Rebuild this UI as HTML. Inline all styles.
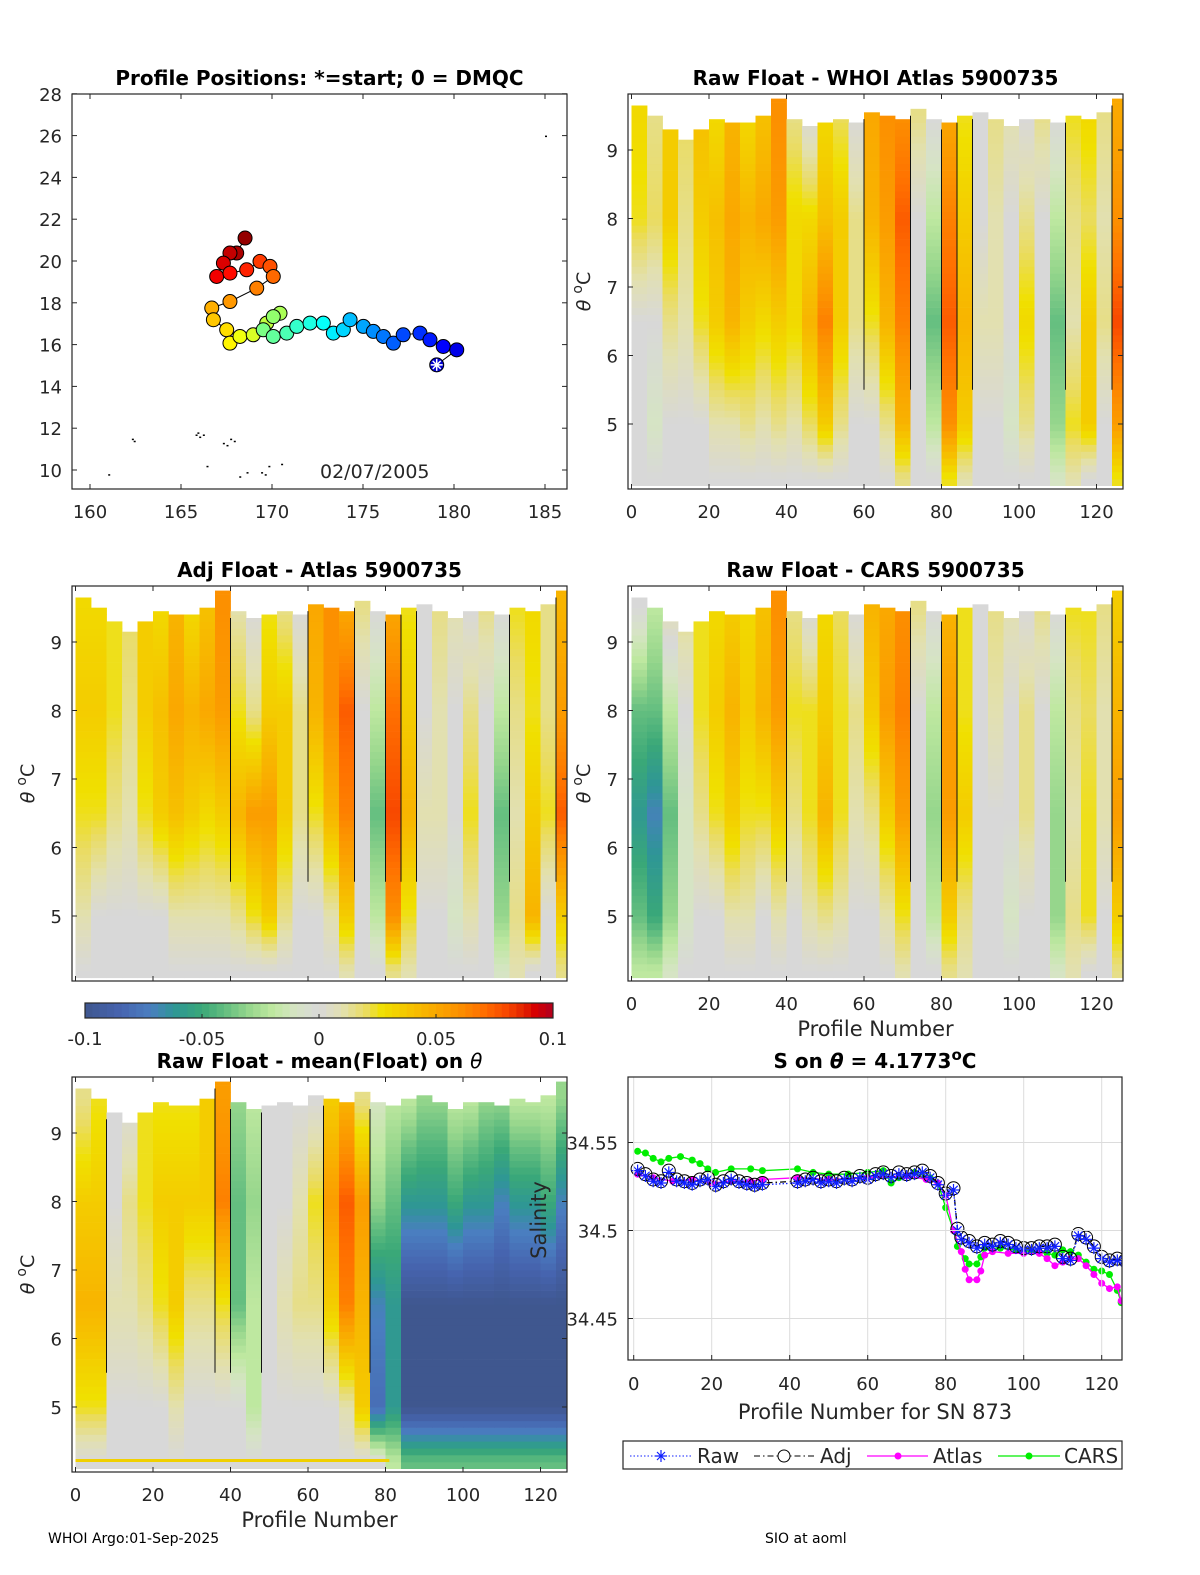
<!DOCTYPE html>
<html><head><meta charset="utf-8"><style>
html,body{margin:0;padding:0;background:#fff;}
svg{display:block;font-family:"DejaVu Sans","Liberation Sans",sans-serif;}
</style></head><body>
<svg id="fig" width="1200" height="1575" viewBox="0 0 1200 1575" xmlns="http://www.w3.org/2000/svg">
<g id="layer"></g>
</svg>
<script>
// ---------- data: profile positions ----------
const trackLon = [179.05,180.15,179.41,178.68,178.13,177.21,176.67,176.12,175.57,175.02,174.29,173.92,173.37,172.82,172.09,171.36,170.81,170.07,169.52,170.07,170.44,169.71,168.97,168.24,167.69,167.51,166.78,166.69,167.69,169.16,170.07,169.89,169.34,168.61,167.69,166.96,167.33,167.69,168.06,168.52];
const trackLat = [15.03,15.75,15.91,16.23,16.55,16.47,16.07,16.39,16.63,16.87,17.19,16.71,16.55,17.03,17.03,16.87,16.55,16.39,16.71,17.34,17.50,17.03,16.47,16.39,16.07,16.71,17.19,17.75,18.06,18.70,19.26,19.74,19.98,19.58,19.42,19.26,19.90,20.38,20.38,21.10];
const posXTicks = [160,165,170,175,180,185];
const posYTicks = [10,12,14,16,18,20,22,24,26,28];
const dateLabel = "02/07/2005";

// ---------- data: theta section anomalies (bins of 4 profiles, levels in theta) ----------
const levelTheta = [9.5,8.0,6.5,5.0,4.2];
const binTop = [9.65,9.5,9.3,9.15,9.3,9.45,9.4,9.4,9.5,9.75,9.45,9.35,9.4,9.45,9.4,9.55,9.5,9.45,9.6,9.45,9.4,9.5,9.55,9.45,9.35,9.45,9.45,9.4,9.5,9.45,9.55,9.75];
const whoiL1 = [0.03,0.015,0.035,0.02,0.04,0.03,0.045,0.03,0.04,0.06,0.015,0.0,0.03,0.02,0.0,0.05,0.06,0.06,0.015,0.0,0.05,0.025,0.0,0.015,0.01,0.0,0.015,0.0,0.025,0.03,0.015,0.05];
const whoiL2 = [0.025,0.02,0.035,0.015,0.035,0.04,0.05,0.045,0.05,0.055,0.03,0.03,0.04,0.035,0.015,0.045,0.055,0.075,0.0,-0.02,0.065,0.035,0.0,0.01,0.0,0.015,0.0,-0.02,0.015,0.02,0.01,0.06];
const whoiL3 = [0.0,0.0,0.015,0.01,0.025,0.035,0.045,0.035,0.03,0.035,0.03,0.045,0.065,0.035,0.015,0.025,0.045,0.065,0.0,-0.04,0.075,0.045,0.01,0.01,0.0,0.03,0.0,-0.04,0.01,0.035,0.015,0.08];
const whoiL4 = [0.0,-0.01,0.0,0.0,0.0,0.01,0.01,0.015,0.01,0.015,0.01,0.02,0.035,0.015,0.0,0.0,0.015,0.045,0.0,-0.02,0.06,0.035,0.0,0.0,-0.01,0.015,0.0,-0.03,0.025,0.035,0.0,0.055];
const whoiL5 = [0,0,0,0,0,0,0,0,0,0,0,0,0,0,0,0,0,0.015,0,0,0.025,0.01,0,0,0,0,0,-0.01,0.01,0,0,0.025];
const adjL1 = [0.03,0.03,0.025,0.02,0.035,0.03,0.045,0.03,0.04,0.06,0.01,0.0,0.025,0.015,0.0,0.05,0.06,0.05,0.015,0.0,0.05,0.025,0.0,0.015,0.01,0.0,0.015,0.0,0.025,0.03,0.015,0.045];
const adjL2 = [0.035,0.035,0.025,0.015,0.035,0.04,0.05,0.045,0.05,0.055,0.025,0.015,0.035,0.035,0.015,0.045,0.06,0.075,0.0,-0.02,0.07,0.035,0.0,0.01,0.0,0.015,0.0,-0.02,0.015,0.025,0.015,0.055];
const adjL3 = [0.025,0.025,0.015,0.01,0.025,0.035,0.04,0.035,0.03,0.035,0.045,0.055,0.055,0.035,0.015,0.025,0.045,0.065,0.0,-0.04,0.08,0.045,0.01,0.01,0.0,0.025,0.0,-0.04,0.01,0.035,0.025,0.075];
const adjL4 = [0.01,0.0,0.0,0.0,0.0,0.0,0.01,0.01,0.01,0.01,0.015,0.025,0.035,0.015,0.0,0.0,0.01,0.035,0.0,-0.02,0.06,0.025,0.0,0.0,-0.01,0.01,0.0,-0.03,0.015,0.045,0.0,0.035];
const adjL5 = [0,0,0,0,0,0,0,0,0,0,0,0,0,0,0,0,0,0.01,0,0,0.015,0.01,0,0,0,0,0,-0.01,0.01,0,0,0.015];
const carsL1 = [0.0,-0.02,0.01,0.015,0.025,0.03,0.035,0.03,0.04,0.06,0.015,0.0,0.03,0.02,0.0,0.045,0.05,0.06,0.015,0.0,0.045,0.025,0.0,0.015,0.01,0.0,0.015,0.0,0.025,0.025,0.015,0.035];
const carsL2 = [-0.04,-0.04,-0.02,0.0,0.025,0.035,0.045,0.035,0.045,0.055,0.025,0.025,0.035,0.025,0.015,0.035,0.055,0.065,0.0,-0.02,0.055,0.025,0.0,0.01,0.0,0.015,0.0,-0.02,0.015,0.02,0.01,0.045];
const carsL3 = [-0.06,-0.07,-0.04,-0.01,0.015,0.025,0.035,0.025,0.025,0.035,0.015,0.025,0.045,0.025,0.01,0.015,0.035,0.055,0.0,-0.03,0.055,0.035,0.0,0.0,0.0,0.015,0.0,-0.03,0.01,0.025,0.01,0.055];
const carsL4 = [-0.04,-0.05,-0.03,-0.01,0.0,0.0,0.01,0.01,0.0,0.01,0.0,0.01,0.015,0.01,0.0,0.0,0.01,0.025,0.0,-0.02,0.035,0.015,0.0,0.0,-0.01,0.0,0.0,-0.03,0.015,0.025,0.0,0.035];
const carsL5 = [-0.02,-0.02,-0.01,0,0,0,0,0,0,0,0,0,0,0,0,0,0,0.01,0,0,0.015,0.01,0,0,0,0,0,-0.01,0.01,0,0,0.015];
const meanL1 = [0.015,0.025,0.0,0.0,0.025,0.025,0.025,0.025,0.035,0.055,-0.03,-0.02,0.0,0.0,0.0,0.0,0.035,0.045,0.015,-0.01,-0.02,-0.02,-0.03,-0.03,-0.02,-0.02,-0.03,-0.03,-0.02,-0.02,-0.02,-0.03];
const meanL2 = [0.035,0.035,0.0,0.015,0.025,0.035,0.035,0.035,0.035,0.065,-0.04,-0.03,0.0,0.0,0.01,0.025,0.055,0.075,0.055,-0.03,-0.04,-0.06,-0.06,-0.06,-0.05,-0.06,-0.06,-0.07,-0.06,-0.06,-0.05,-0.07];
const meanL3 = [0.045,0.045,0.01,0.01,0.015,0.025,0.035,0.015,0.015,0.025,-0.04,-0.02,0.0,0.01,0.015,0.015,0.035,0.065,0.045,-0.07,-0.06,-0.1,-0.1,-0.1,-0.1,-0.1,-0.1,-0.1,-0.1,-0.1,-0.1,-0.1];
const meanL4 = [0.025,0.025,0.0,0.0,0.0,0.0,0.01,0.0,0.0,0.0,0.0,-0.02,0.0,0.0,0.0,0.0,0.0,0.01,0.035,-0.08,-0.06,-0.1,-0.1,-0.1,-0.1,-0.1,-0.1,-0.1,-0.1,-0.1,-0.1,-0.1];
const meanL5 = [0,0,0,0,0,0,0,0,0,0,0,0,0,0,0,0,0,0,0,0,-0.02,-0.04,-0.04,-0.04,-0.04,-0.04,-0.04,-0.04,-0.04,-0.04,-0.04,-0.04];
const profXTicks = [0,20,40,60,80,100,120];
const thetaTicks = [5,6,7,8,9];
const cbarTicks = [-0.1,-0.05,0,0.05,0.1];
const cbarLabels = ["-0.1","-0.05","0","0.05","0.1"];

// ---------- data: salinity on theta ----------
const rawProf = [1,3,5,7,9,11,13,15,17,19,21,23,25,27,29,31,33,42,44,46,48,50,52,54,56,58,60,62,64,66,68,70,72,74,76,78,80,82,83,84,86,88,90,92,94,96,98,100,102,104,106,108,110,112,114,116,118,120,122,124,126];
const rawSal = [34.534,34.531,34.528,34.527,34.533,34.528,34.527,34.526,34.528,34.529,34.525,34.527,34.529,34.527,34.526,34.525,34.526,34.527,34.528,34.529,34.527,34.528,34.527,34.529,34.528,34.530,34.529,34.531,34.532,34.530,34.532,34.531,34.532,34.533,34.530,34.526,34.520,34.523,34.500,34.495,34.493,34.490,34.492,34.491,34.493,34.492,34.490,34.489,34.489,34.490,34.490,34.491,34.484,34.483,34.497,34.495,34.490,34.484,34.482,34.483,34.482];
const adjSal = [34.535,34.532,34.529,34.528,34.534,34.529,34.528,34.527,34.529,34.530,34.526,34.528,34.530,34.528,34.527,34.526,34.527,34.528,34.529,34.530,34.528,34.529,34.528,34.530,34.529,34.531,34.530,34.532,34.533,34.531,34.533,34.532,34.533,34.534,34.531,34.527,34.521,34.524,34.501,34.496,34.494,34.491,34.493,34.492,34.494,34.493,34.491,34.490,34.490,34.491,34.491,34.492,34.485,34.484,34.498,34.496,34.491,34.485,34.483,34.484,34.483];
const atlasProf = [1,5,10,15,20,25,30,33,42,50,60,70,75,78,80,82,84,85,86,88,89,90,92,96,100,104,106,108,110,112,114,116,118,120,122,124,125,126,127];
const atlasSal = [34.532,34.530,34.528,34.529,34.527,34.528,34.528,34.529,34.530,34.529,34.530,34.531,34.529,34.527,34.520,34.500,34.488,34.478,34.472,34.472,34.477,34.486,34.488,34.487,34.487,34.487,34.484,34.480,34.482,34.484,34.484,34.480,34.475,34.470,34.467,34.468,34.460,34.452,34.450];
const carsProf = [1,3,5,7,9,12,15,17,19,21,25,30,33,42,46,50,55,60,64,66,68,72,76,78,80,82,83,85,86,88,89,90,94,98,102,106,108,110,112,114,116,118,120,122,124,125,126];
const carsSal = [34.545,34.544,34.541,34.539,34.541,34.542,34.540,34.538,34.535,34.533,34.535,34.535,34.534,34.535,34.533,34.532,34.532,34.533,34.534,34.527,34.530,34.533,34.530,34.527,34.513,34.500,34.491,34.484,34.481,34.481,34.485,34.490,34.490,34.489,34.488,34.487,34.486,34.489,34.488,34.486,34.482,34.478,34.477,34.475,34.466,34.459,34.458];
const salTicks = [34.45,34.5,34.55];
const salTickLabels = ["34.45","34.5","34.55"];

// ---------- helpers ----------
const NS = "http://www.w3.org/2000/svg";
const root = document.getElementById('layer');
function mk(tag, attrs, parent){
  const e = document.createElementNS(NS, tag);
  for (const k in attrs) e.setAttribute(k, attrs[k]);
  (parent||root).appendChild(e);
  return e;
}
function txt(s, x, y, size, opts, parent){
  const o = Object.assign({x:x, y:y, 'font-size':size, fill:'#262626'}, opts||{});
  const e = mk('text', o, parent);
  e.textContent = s;
  return e;
}
const stops = [[-0.1,[63,87,143]],[-0.085,[70,100,175]],[-0.072,[74,126,192]],[-0.062,[46,150,150]],[-0.05,[58,168,120]],[-0.04,[100,190,128]],[-0.03,[150,214,140]],[-0.02,[190,232,160]],[-0.01,[214,228,196]],[0,[216,216,216]],[0.01,[226,224,176]],[0.02,[234,220,96]],[0.027,[240,224,0]],[0.04,[246,192,0]],[0.05,[250,168,0]],[0.06,[252,144,0]],[0.07,[255,112,0]],[0.08,[248,72,0]],[0.088,[224,32,0]],[0.092,[216,0,0]],[0.1,[176,0,32]]];
function cmap(v){
  if (v <= stops[0][0]) return 'rgb('+stops[0][1].join(',')+')';
  for (let i=1;i<stops.length;i++){
    if (v <= stops[i][0]){
      const a=stops[i-1], b=stops[i], t=(v-a[0])/(b[0]-a[0]);
      const c=a[1].map((q,j)=>Math.round(q+(b[1][j]-q)*t));
      return 'rgb('+c.join(',')+')';
    }
  }
  return 'rgb('+stops[stops.length-1][1].join(',')+')';
}
function levelVal(levels, b, th){
  if (th >= levelTheta[0]) return levels[0][b];
  for (let i=1;i<levelTheta.length;i++){
    if (th >= levelTheta[i]){
      const t=(levelTheta[i-1]-th)/(levelTheta[i-1]-levelTheta[i]);
      return levels[i-1][b]+(levels[i][b]-levels[i-1][b])*t;
    }
  }
  return levels[levelTheta.length-1][b];
}
function axesBox(x,y,w,h,name){
  const r = mk('rect',{x:x,y:y,width:w,height:h,fill:'none',stroke:'#262626','stroke-width':1.2});
  
  
}

// ---------- section panel ----------
function section(L, T, levels, title, name, showXLabel, showXTicks){
  const W=495, H=395;
  const g = mk('g',{});
  
  
  const xs = p => L + 3.5 + p*3.875;
  const ys = th => T + 56 + (9-th)*68.5;
  const clip = 'clip-'+name;
  const cp = mk('clipPath',{id:clip}, g);
  mk('rect',{x:L,y:T,width:W,height:H}, cp);
  const hg = mk('g',{'clip-path':'url(#'+clip+')'}, g);
  const nb = levels[0].length;
  for (let b=0;b<nb;b++){
    const x0=xs(b*4), x1=xs(b*4+4);
    for (let th=4.1; th < binTop[b]; th+=0.1){
      const thc = Math.min(th+0.1, binTop[b]);
      const v = levelVal(levels, b, th+0.05);
      const cell = mk('rect',{x:x0.toFixed(1),y:ys(thc).toFixed(1),width:(x1-x0+0.4).toFixed(1),height:(ys(th)-ys(thc)+0.4).toFixed(1),fill:cmap(v)}, hg);
      
      
    }
    const prev = b>0 ? levels[1][b-1] : null;
    if (prev !== null && Math.abs(prev - levels[1][b]) > 0.025){
      const ln = mk('line',{x1:x0,y1:ys(binTop[b]-0.1),x2:x0,y2:ys(5.5),stroke:'#111','stroke-width':1}, hg);
      
      
    }
  }
  axesBox(L,T,W,H,name+'-axes');
  profXTicks.forEach(p=>{
    const x=xs(p);
    mk('line',{x1:x,y1:T+H,x2:x,y2:T+H-5,stroke:'#262626'}, g);
    mk('line',{x1:x,y1:T,x2:x,y2:T+5,stroke:'#262626'}, g);
    if (showXTicks){
      const t = txt(String(p), x, T+H+29, 18, {'text-anchor':'middle'}, g);
      
      
    }
  });
  thetaTicks.forEach(v=>{
    const y=ys(v);
    mk('line',{x1:L,y1:y,x2:L+5,y2:y,stroke:'#262626'}, g);
    mk('line',{x1:L+W,y1:y,x2:L+W-5,y2:y,stroke:'#262626'}, g);
    const t = txt(String(v), L-10, y+7, 18, {'text-anchor':'end'}, g);
    
    
  });
  if (title){
    const tt = txt(title, L+W/2, T-9, 20, {'text-anchor':'middle','font-weight':'bold',fill:'#000'}, g);
    
    
  }
  const yl = mk('text',{x:0,y:0,'font-size':19,fill:'#262626',transform:'translate('+(L-38)+','+(T+H/2)+') rotate(-90)','text-anchor':'middle'}, g);
  yl.innerHTML = '<tspan font-style="italic">θ</tspan> <tspan dy="-8" font-size="14">o</tspan><tspan dy="8">C</tspan>';
  
  
  if (showXLabel){
    const xl = txt('Profile Number', L+W/2, T+H+55, 21, {'text-anchor':'middle'}, g);
    
    
  }
  return {xs:xs, ys:ys};
}

// ---------- panel 1: positions ----------
(function(){
  const L=72,T=94,W=495,H=395;
  const g = mk('g',{});
  
  
  const xs = lon => 90 + (lon-160)*18.2;
  const ys = lat => 470 - (lat-10)*20.9;
  [[161,9.8],[162.3,11.5],[162.4,11.4],[165.8,11.7],[166,11.6],[166.2,11.7],[166.4,10.2],[167.3,11.3],[167.5,11.2],[167.9,11.4],[168.6,9.9],[169.4,9.9],[169.6,9.8],[169.8,10.2],[170.5,10.3],[168.2,9.7],[167.7,11.5],[165.9,11.8],[185,26]].forEach(d=>{
    const s = mk('rect',{x:xs(d[0]),y:ys(d[1]),width:2,height:1.5,fill:'#000'}, g);
    
    
  });
  let pts = trackLon.map((lo,i)=>xs(lo).toFixed(1)+','+ys(trackLat[i]).toFixed(1)).join(' ');
  const pl = mk('polyline',{points:pts,fill:'none',stroke:'#000','stroke-width':1}, g);
  
  
  function jet(t){
    const r = Math.min(1,Math.max(0,1.5-Math.abs(4*t-3)));
    const gg = Math.min(1,Math.max(0,1.5-Math.abs(4*t-2)));
    const b = Math.min(1,Math.max(0,1.5-Math.abs(4*t-1)));
    return 'rgb('+Math.round(r*255)+','+Math.round(gg*255)+','+Math.round(b*255)+')';
  }
  const n = trackLon.length;
  for (let i=n-1;i>=0;i--){
    const c = mk('circle',{cx:xs(trackLon[i]),cy:ys(trackLat[i]),r:7,fill:jet(0.08+0.9*i/(n-1)),stroke:'#000','stroke-width':1}, g);
    
    
  }
  const sx=xs(trackLon[0]), sy=ys(trackLat[0]);
  const st = mk('path',{d:'M'+(sx-6)+' '+sy+'H'+(sx+6)+'M'+sx+' '+(sy-6)+'V'+(sy+6)+'M'+(sx-4)+' '+(sy-4)+'L'+(sx+4)+' '+(sy+4)+'M'+(sx-4)+' '+(sy+4)+'L'+(sx+4)+' '+(sy-4),stroke:'#fff','stroke-width':1.5}, g);
  
  
  axesBox(L,T,W,H,'positions-axes');
  posXTicks.forEach(v=>{
    const x=xs(v);
    mk('line',{x1:x,y1:T+H,x2:x,y2:T+H-5,stroke:'#262626'}, g);
    mk('line',{x1:x,y1:T,x2:x,y2:T+5,stroke:'#262626'}, g);
    const t = txt(String(v), x, T+H+29, 18, {'text-anchor':'middle'}, g);
    
    
  });
  posYTicks.forEach(v=>{
    const y=ys(v);
    mk('line',{x1:L,y1:y,x2:L+5,y2:y,stroke:'#262626'}, g);
    mk('line',{x1:L+W,y1:y,x2:L+W-5,y2:y,stroke:'#262626'}, g);
    const t = txt(String(v), L-10, y+7, 18, {'text-anchor':'end'}, g);
    
    
  });
  const d = txt(dateLabel, 320, 478, 19, {}, g);
  
  
  const tt = txt('Profile Positions: *=start; 0 = DMQC', L+W/2, T-9, 20, {'text-anchor':'middle','font-weight':'bold',fill:'#000'}, g);
  
  
})();

section(628, 94, [whoiL1,whoiL2,whoiL3,whoiL4,whoiL5], 'Raw Float - WHOI Atlas  5900735', 'raw-whoi-panel', false, true);
section(72, 586, [adjL1,adjL2,adjL3,adjL4,adjL5], 'Adj Float - Atlas  5900735', 'adj-atlas-panel', false, false);
section(628, 586, [carsL1,carsL2,carsL3,carsL4,carsL5], 'Raw Float - CARS  5900735', 'raw-cars-panel', true, true);

// ---------- colorbar ----------
(function(){
  const L=85,T=1003,W=468,H=15;
  const g = mk('g',{});
  
  
  const nSeg = 64;
  for (let i=0;i<nSeg;i++){
    const v = -0.1 + 0.2*(i+0.5)/nSeg;
    mk('rect',{x:(L+W*i/nSeg).toFixed(2),y:T,width:(W/nSeg+0.5).toFixed(2),height:H,fill:cmap(v)}, g);
  }
  mk('rect',{x:L,y:T,width:W,height:H,fill:'none',stroke:'#262626','stroke-width':1.2}, g);
  cbarTicks.forEach((v,i)=>{
    const x = L + (v+0.1)/0.2*W;
    mk('line',{x1:x,y1:T+H,x2:x,y2:T+H-4,stroke:'#262626'}, g);
    const t = txt(cbarLabels[i], x, T+42, 18, {'text-anchor':'middle'}, g);
    
    
  });
})();

// ---------- panel 6: salinity ----------
(function(){
  const L=628,T=1077,W=494,H=283;
  const g = mk('g',{});
  
  
  const xs = p => 633.7 + p*3.9;
  const ys = s => 1230.5 - (s-34.5)*1760;
  const cp = mk('clipPath',{id:'clip-sal'}, g);
  mk('rect',{x:L,y:T,width:W,height:H}, cp);
  const pg = mk('g',{'clip-path':'url(#clip-sal)'}, g);
  profXTicks.forEach(p=>{
    const x=xs(p);
    const gl = mk('line',{x1:x,y1:T,x2:x,y2:T+H,stroke:'#dcdcdc'}, g);
    
    
    mk('line',{x1:x,y1:T+H,x2:x,y2:T+H-5,stroke:'#262626'}, g);
    const t = txt(String(p), x, T+H+30, 18, {'text-anchor':'middle'}, g);
    
    
  });
  salTicks.forEach((s,i)=>{
    const y=ys(s);
    const gl = mk('line',{x1:L,y1:y,x2:L+W,y2:y,stroke:'#dcdcdc'}, g);
    
    
    mk('line',{x1:L,y1:y,x2:L+5,y2:y,stroke:'#262626'}, g);
    const t = txt(salTickLabels[i], L-10, y+7, 18, {'text-anchor':'end'}, g);
    
    
  });
  function series(prof, sal, color, dash, name){
    const pts = prof.map((p,i)=>xs(p).toFixed(1)+','+ys(sal[i]).toFixed(1)).join(' ');
    const pl = mk('polyline',{points:pts,fill:'none',stroke:color,'stroke-width':1.3,'stroke-dasharray':dash||'none'}, pg);
    
    
  }
  series(carsProf, carsSal, '#00ee00', null, 'cars');
  carsProf.forEach((p,i)=>{
    const c = mk('circle',{cx:xs(p),cy:ys(carsSal[i]),r:3.5,fill:'#00ee00'}, pg);
    
    
  });
  series(atlasProf, atlasSal, '#ff00ff', null, 'atlas');
  atlasProf.forEach((p,i)=>{
    const c = mk('circle',{cx:xs(p),cy:ys(atlasSal[i]),r:3.5,fill:'#ff00ff'}, pg);
    
    
  });
  series(rawProf, adjSal, '#000', '6,3,1.5,3', 'adj');
  rawProf.forEach((p,i)=>{
    const c = mk('circle',{cx:xs(p),cy:ys(adjSal[i]),r:6.5,fill:'none',stroke:'#000','stroke-width':1}, pg);
    
    
  });
  series(rawProf, rawSal, '#1020ff', '1.5,2', 'raw');
  rawProf.forEach((p,i)=>{
    const x=xs(p), y=ys(rawSal[i]);
    const st = mk('path',{d:'M'+(x-6)+' '+y+'H'+(x+6)+'M'+x+' '+(y-6)+'V'+(y+6)+'M'+(x-4.2)+' '+(y-4.2)+'L'+(x+4.2)+' '+(y+4.2)+'M'+(x-4.2)+' '+(y+4.2)+'L'+(x+4.2)+' '+(y-4.2),stroke:'#1020ff','stroke-width':1.2}, pg);
    
    
  });
  axesBox(L,T,W,H,'salinity-axes');
  const tt = txt('', L+W/2, T-9, 20, {'text-anchor':'middle','font-weight':'bold',fill:'#000'}, g);
  tt.innerHTML = 'S on <tspan font-style="italic">θ</tspan> = 4.1773<tspan dy="-8" font-size="15">o</tspan><tspan dy="8">C</tspan>';
  
  
  const xl = txt('Profile Number for SN 873', L+W/2, 1419, 21, {'text-anchor':'middle'}, g);
  
  
  // legend
  const lg = mk('g',{});
  
  
  mk('rect',{x:623,y:1441,width:499,height:28,fill:'#fff',stroke:'#262626','stroke-width':1.2}, lg);
  const ly = 1456;
  mk('line',{x1:630,y1:ly,x2:692,y2:ly,stroke:'#1020ff','stroke-dasharray':'1.5,2'}, lg);
  mk('path',{d:'M655 '+ly+'H667M661 '+(ly-6)+'V'+(ly+6)+'M657 '+(ly-4)+'L665 '+(ly+4)+'M657 '+(ly+4)+'L665 '+(ly-4),stroke:'#1020ff','stroke-width':1.2}, lg);
  const e1 = txt('Raw', 697, ly+7, 20, {}, lg);
  
  
  mk('line',{x1:754,y1:ly,x2:815,y2:ly,stroke:'#000','stroke-dasharray':'6,3,1.5,3'}, lg);
  mk('circle',{cx:784,cy:ly,r:6,fill:'#fff',stroke:'#000'}, lg);
  const e2 = txt('Adj', 820, ly+7, 20, {}, lg);
  
  
  mk('line',{x1:867,y1:ly,x2:928,y2:ly,stroke:'#ff00ff','stroke-width':1.3}, lg);
  mk('circle',{cx:898,cy:ly,r:3.5,fill:'#ff00ff'}, lg);
  const e3 = txt('Atlas', 933, ly+7, 20, {}, lg);
  
  
  mk('line',{x1:998,y1:ly,x2:1060,y2:ly,stroke:'#00ee00','stroke-width':1.3}, lg);
  mk('circle',{cx:1029,cy:ly,r:3.5,fill:'#00ee00'}, lg);
  const e4 = txt('CARS', 1064, ly+7, 20, {}, lg);
  
  
})();

// ---------- panel 5: mean anomaly ----------
(function(){
  const ax = section(72, 1077, [meanL1,meanL2,meanL3,meanL4,meanL5], '', 'raw-minus-mean-panel', true, true);
  const tt = txt('', 72+495/2, 1068, 20, {'text-anchor':'middle','font-weight':'bold',fill:'#000'});
  tt.innerHTML = 'Raw Float - mean(Float) on <tspan font-style="italic" font-weight="normal">θ</tspan>';
  
  
  const band = mk('rect',{x:ax.xs(0),y:1459,width:ax.xs(81)-ax.xs(0),height:3,fill:'#f0d000'});
  
  
  const sl = txt('Salinity', 0, 0, 21, {'text-anchor':'middle',transform:'translate(546,1220) rotate(-90)'});
  
  
})();

// ---------- footer ----------
const f1 = txt('WHOI Argo:01-Sep-2025', 48, 1543, 14, {fill:'#000'});


const f2 = txt('SIO at aoml', 765, 1543, 14, {fill:'#000'});


</script>
</body></html>
